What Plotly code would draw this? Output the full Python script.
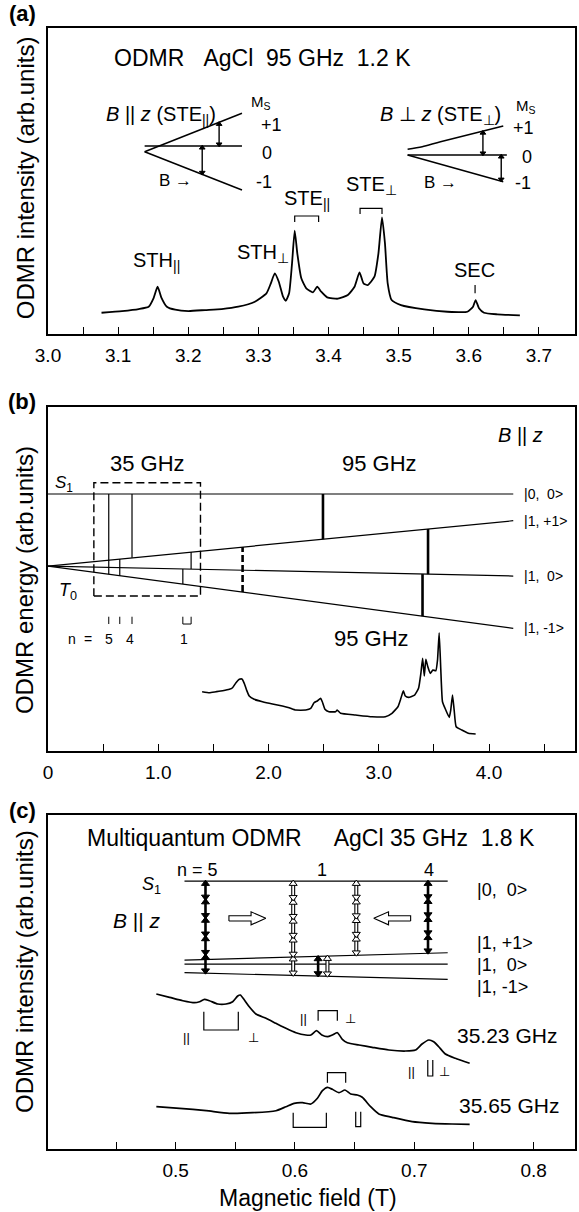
import numpy as np
import plotly.graph_objects as go

FONT = "Liberation Sans, Arial, Helvetica, sans-serif"
INK = "black"

# ---------------- (a) 95 GHz ODMR spectrum of AgCl ----------------
a_field = [3.0763, 3.1055, 3.1293, 3.1435, 3.1506, 3.1563, 3.1615, 3.1695, 3.1814, 3.2003,
           3.224, 3.2476, 3.2713, 3.295, 3.3115, 3.3178, 3.3234, 3.3291, 3.3352, 3.3391,
           3.3438, 3.348, 3.3518, 3.3555, 3.3612, 3.3683, 3.3778, 3.3839, 3.3896, 3.3981,
           3.4134, 3.4276, 3.4371, 3.4442, 3.4499, 3.456, 3.4655, 3.4712, 3.4763, 3.4805,
           3.4844, 3.49, 3.5033, 3.5365, 3.5696, 3.598, 3.6061, 3.6098, 3.6146, 3.6217,
           3.6406, 3.6729]
a_signal = [21.3, 23, 25, 27.3, 36, 47.3, 36.7, 27.3, 24.3, 23,
            24, 25, 27.3, 32.3, 40.7, 50.7, 60.7, 52.3, 37.3, 33.3,
            40.7, 70.7, 103.3, 80.7, 55.7, 45.7, 41.7, 47.3, 42.3, 36.7,
            35.3, 39, 47.3, 61.7, 50.7, 49, 57.3, 80.7, 116.7, 90.7,
            50.7, 34, 29, 24.7, 22.3, 22.3, 27.3, 34, 25.7, 21.3,
            19.7, 18.7]
a_tick_vals = [3.0, 3.1, 3.2, 3.3, 3.4, 3.5, 3.6, 3.7]
a_minor_vals = [3.05, 3.15, 3.25, 3.35, 3.45, 3.55, 3.65]

# spin-sublevel fans (B || z and B perp z)
par_field = [3.1378, 3.2766]
par_plus = [182.3, 220.7]
par_zero = [188, 188]
par_minus = [182.3, 144]
par_arrow_field = [3.244, 3.2199]

perp_plus_field = [3.5128, 3.5337, 3.5597, 3.6492]
perp_plus = [184.7, 187.3, 192.3, 208]
perp_zero_field = [3.5128, 3.6543]
perp_zero = [179, 179]
perp_minus_field = [3.5128, 3.6492]
perp_minus = [179, 152.3]
perp_arrow_field = [3.6202, 3.6463]

# peak assignments
ste_par_pair = [3.3518, 3.3859]
ste_perp_pair = [3.445, 3.4763]
sec_field = 3.609

# ---------------- (b) energy levels and wide-range spectrum ----------------
b_level_field = [0.0, 4.22]
b_levels = {
    "S1": [257, 257],
    "+1": [185, 230.3],
    "0": [185, 175],
    "-1": [185, 122.7],
}
b_level_names = ["|0,  0>", "|1, +1>", "|1,  0>", "|1, -1>"]
b_trans_field = [0.551, 0.651, 0.762, 1.223, 1.298, 1.765, 2.494, 3.397, 3.447]
b_trans_upper = ["S1", "+1", "S1", "0", "+1", "+1", "S1", "0", "+1"]
b_trans_lower = ["-1", "-1", "+1", "-1", "0", "-1", "+1", "-1", "0"]
b_trans_kind = ["thin", "thin", "thin", "thin", "thin", "dashed", "thick", "thick", "thick"]
b_box_field = [0.416, 1.383]
b_box_energy = [155, 268.3]
b_order_field = [0.551, 0.651, 0.762]
b_order_pair = [1.223, 1.298]

b_field = [1.398, 1.464, 1.524, 1.584, 1.645, 1.674, 1.705, 1.735, 1.759, 1.780,
           1.801, 1.825, 1.870, 1.945, 2.036, 2.126, 2.187, 2.247, 2.338, 2.383,
           2.413, 2.442, 2.473, 2.488, 2.512, 2.548, 2.609, 2.623, 2.654, 2.789,
           2.939, 3.060, 3.120, 3.174, 3.201, 3.223, 3.241, 3.271, 3.325, 3.361,
           3.382, 3.398, 3.413, 3.427, 3.445, 3.467, 3.491, 3.518, 3.533, 3.548,
           3.563, 3.578, 3.608, 3.639, 3.653, 3.669, 3.684, 3.702, 3.753, 3.813,
           3.879]
b_signal = [59.3, 58.3, 59.3, 60.3, 61.7, 63.3, 68.3, 71.7, 72, 67.7,
            61, 55, 51.7, 49.3, 47, 45, 43.3, 41, 41, 42.7,
            48.3, 50, 52.7, 49.3, 41.7, 39.3, 39.3, 41, 37.7, 36,
            34.3, 34.3, 37.7, 44.3, 52.7, 60.3, 55, 53.7, 56, 62.7,
            77.7, 92.7, 75, 91.7, 84.3, 77.7, 81, 80.3, 91, 118.3,
            81, 49.3, 41, 33.7, 41, 56, 41, 24.3, 21, 17.7,
            17]
b_tick_vals = [0, 1, 2, 3, 4]
b_tick_text = ["0", "1.0", "2.0", "3.0", "4.0"]
b_minor_vals = [0.5, 1.5, 2.5, 3.5, 4.5]

# ---------------- (c) multiquantum ODMR at 35 GHz ----------------
c_level_field = [0.5074, 0.7280]
c_levels = {
    "S1": [268, 268],
    "+1": [189, 196.3],
    "0": [185, 185],
    "-1": [176.3, 169.7],
}
c_mq_field = [0.525, 0.5985, 0.6514, 0.7115, 0.6194, 0.6272]
c_mq_order = [5, 5, 4, 4, 1, 1]
c_mq_upper = ["S1", "S1", "S1", "S1", "+1", "+1"]
c_mq_lower = ["-1", "-1", "+1", "+1", "-1", "-1"]
c_mq_filled = [True, False, False, True, True, False]

c_field_lo = [0.4838, 0.4949, 0.5060, 0.5158, 0.5200, 0.5241, 0.5283, 0.5353, 0.5423, 0.5478,
              0.5520, 0.5542, 0.5576, 0.5617, 0.5673, 0.5757, 0.5840, 0.5924, 0.6008, 0.6091,
              0.6133, 0.6180, 0.6225, 0.6272, 0.6313, 0.6355, 0.6397, 0.6439, 0.6536, 0.6647,
              0.6787, 0.6926, 0.7010, 0.7065, 0.7121, 0.7163, 0.7205, 0.7261, 0.7344, 0.7464]
c_signal_lo = [155, 151.7, 148.3, 146.3, 147.3, 149.7, 148.3, 145, 145, 147.3,
               153, 154, 149, 142.3, 135, 130.7, 125.7, 120.7, 116.3, 114,
               114, 118.3, 114, 112.3, 114, 116.3, 109.7, 106.3, 104, 101.7,
               99, 98, 99, 105, 109, 107.3, 102.3, 95, 90.7, 85.7]
c_field_hi = [0.4838, 0.5033, 0.5256, 0.5450, 0.5645, 0.5840, 0.5924, 0.5993, 0.6063, 0.6133,
              0.6188, 0.6230, 0.6272, 0.6313, 0.6369, 0.6419, 0.6467, 0.6522, 0.6564, 0.6634,
              0.6703, 0.6815, 0.6982, 0.7149, 0.7316, 0.7464]
c_signal_hi = [42.3, 40.7, 38.3, 35.7, 36.3, 38.3, 42.3, 45.7, 46.3, 45,
               50.7, 58.3, 61.7, 59.7, 56.3, 59, 55, 54, 51.7, 42.3,
               35, 31.7, 27.3, 25.7, 25, 24.7]
c_tick_vals = [0.5, 0.6, 0.7, 0.8]
c_tick_text = ["0.5", "0.6", "0.7", "0.8"]
c_minor_vals = [0.45, 0.55, 0.65, 0.75]

# resonance assignments under the 35 GHz traces
c_par_field = [0.5089, 0.6069, 0.6979]
c_par_y = [111.3, 131, 77.7]
c_perp_field = [0.5651, 0.6469, 0.7255]
c_perp_y = [111.3, 130.5, 77.7]
c_cup_field = [[0.5236, 0.5525], [0.7113, 0.7155], [0.5985, 0.6263], [0.6509, 0.6551]]
c_cup_y = [[137.3, 119], [89, 73], [36.3, 21.7], [37.3, 22.3]]
c_cap_field = [[0.6194, 0.6355], [0.6272, 0.6425]]
c_cap_y = [[138.3, 128.3], [76.3, 66.3]]
c_sweep_dir = [(0.5601, 230.7, 1), (0.6815, 230.7, -1)]

# outline of a hollow block arrow, unit length, pointing right
BLOCK_ARROW_U = [0, 0.6, 0.6, 1, 0.6, 0.6, 0, 0]
BLOCK_ARROW_V = [-0.2, -0.2, -0.5, 0, 0.5, 0.2, 0.2, -0.2]

fig = go.Figure()
annotations = []


def add_line(xs, ys, ax, width=1.2, dash="solid", color=INK, shape="linear", smoothing=0.0):
    fig.add_trace(go.Scatter(
        x=list(xs), y=list(ys), xaxis="x" + ax, yaxis="y" + ax, mode="lines",
        line=dict(color=color, width=width, dash=dash, shape=shape,
                  smoothing=smoothing if shape == "spline" else None),
        hoverinfo="skip", showlegend=False))


def stacked_arrow(x, y_lo, y_hi, n, ax, filled=True, shaft=2.4, head=7, inset=2.6):
    edges = np.linspace(y_lo, y_hi, n + 1)
    if filled:
        add_line([x, x], [y_lo, y_hi], ax, width=shaft)
    else:
        add_line([x, x], [y_lo, y_hi], ax, width=shaft + 2.2)
        add_line([x, x], [y_lo, y_hi], ax, width=shaft, color="white")
    face = INK if filled else "white"
    for sym, ys in (("triangle-up", edges[1:] - inset), ("triangle-down", edges[:-1] + inset)):
        fig.add_trace(go.Scatter(
            x=[x] * n, y=list(ys), xaxis="x" + ax, yaxis="y" + ax, mode="markers",
            marker=dict(symbol=sym, size=head, color=face, line=dict(color=INK, width=1)),
            hoverinfo="skip", showlegend=False))


def note(text, x, y, ax, size=18, xanchor="center", yanchor="middle", family=FONT,
         xref=None, yref=None, angle=0):
    annotations.append(dict(
        text=text, x=x, y=y, xref=xref or ("x" + ax), yref=yref or ("y" + ax),
        showarrow=False, xanchor=xanchor, yanchor=yanchor, textangle=angle,
        font=dict(size=size, family=family, color=INK)))


# ======== panel (a) ========
add_line(a_field, a_signal, "", width=1.8, shape="spline", smoothing=0.5)

add_line(par_field, par_plus, "", width=1.5)
add_line(par_field, par_zero, "", width=1.5)
add_line(par_field, par_minus, "", width=1.5)
stacked_arrow(par_arrow_field[0], np.interp(par_arrow_field[0], par_field, par_zero),
              np.interp(par_arrow_field[0], par_field, par_plus), 1, "",
              shaft=1.4, head=5, inset=1.8)
stacked_arrow(par_arrow_field[1], np.interp(par_arrow_field[1], par_field, par_minus),
              np.interp(par_arrow_field[1], par_field, par_zero), 1, "",
              shaft=1.4, head=5, inset=1.8)

add_line(perp_plus_field, perp_plus, "", width=1.5, shape="spline", smoothing=0.8)
add_line(perp_zero_field, perp_zero, "", width=1.5)
add_line(perp_minus_field, perp_minus, "", width=1.5)
stacked_arrow(perp_arrow_field[0], perp_zero[0],
              np.interp(perp_arrow_field[0], perp_plus_field, perp_plus), 1, "",
              shaft=1.4, head=5, inset=1.8)
stacked_arrow(perp_arrow_field[1], np.interp(perp_arrow_field[1], perp_minus_field, perp_minus),
              perp_zero[0], 1, "", shaft=1.4, head=5, inset=1.8)

for pair, top, leg in ((ste_par_pair, 118, 112), (ste_perp_pair, 125.7, 120)):
    add_line([pair[0], pair[0], pair[1], pair[1]], [leg, top, top, leg], "", width=1.2)
add_line([sec_field, sec_field], [40.7, 49], "", width=1.2)

note("ODMR\u00a0\u00a0\u00a0AgCl\u00a0\u00a095\u00a0GHz\u00a0\u00a01.2\u00a0K", 3.0915, 276, "",
     size=23, xanchor="left")
note("<i>B</i> || <i>z</i> (STE<sub>||</sub>)", 3.0795, 219, "", size=20, xanchor="left")
note("M<sub>S</sub>", 3.304, 232, "", size=15)
note("+1", 3.319, 209, "", size=18)
note("0", 3.3125, 181, "", size=18)
note("-1", 3.308, 152.3, "", size=18)
note("B \u2192", 3.1556, 154, "", size=17, xanchor="left")
note("<i>B</i> \u22a5 <i>z</i> (STE<sub>\u22a5</sub>)", 3.4707, 219, "", size=20, xanchor="left")
note("M<sub>S</sub>", 3.682, 228, "", size=15)
note("+1", 3.6776, 205.7, "", size=18)
note("0", 3.6825, 177.3, "", size=18)
note("-1", 3.6776, 150.7, "", size=18)
note("B \u2192", 3.5337, 151.5, "", size=17, xanchor="left")

note("STH<sub>||</sub>", 3.155, 72.3, "", size=20)
note("STH<sub>\u22a5</sub>", 3.306, 80.7, "", size=20)
note("STE<sub>||</sub>", 3.37, 135, "", size=20)
note("STE<sub>\u22a5</sub>", 3.462, 149, "", size=20)
note("SEC", 3.6075, 64, "", size=20)

# ======== panel (b) ========
for key in ("S1", "+1", "0", "-1"):
    add_line(b_level_field, b_levels[key], "2", width=1.2)
for name, key in zip(b_level_names, ("S1", "+1", "0", "-1")):
    note(name, 4.30, b_levels[key][1], "2", size=14, xanchor="left")

styles = {"thin": dict(width=1.2, dash="solid"),
          "thick": dict(width=2.6, dash="solid"),
          "dashed": dict(width=2.6, dash="7px,3px")}
for f, up, lo, kind in zip(b_trans_field, b_trans_upper, b_trans_lower, b_trans_kind):
    y_up = np.interp(f, b_level_field, b_levels[up])
    y_lo = np.interp(f, b_level_field, b_levels[lo])
    add_line([f, f], [y_lo, y_up], "2", **styles[kind])

bx0, bx1 = b_box_field
by0, by1 = b_box_energy
add_line([bx0, bx1, bx1, bx0, bx0], [by0, by0, by1, by1, by0], "2", width=1.4, dash="8px,4px")

for f in b_order_field:
    add_line([f, f], [127, 134.3], "2", width=1.0)
add_line([b_order_pair[0], b_order_pair[0], b_order_pair[1], b_order_pair[1]],
         [134.3, 127, 127, 134.3], "2", width=1.0)
note("n", 0.217, 111.7, "2", size=14)
note("=", 0.367, 111.7, "2", size=14)
note("5", b_order_field[0], 111.7, "2", size=14)
note("4", b_order_field[2] - 0.02, 111.7, "2", size=14)
note("1", 1.234, 111.7, "2", size=14)

add_line(b_field, b_signal, "2", width=1.6, shape="spline", smoothing=0.4)

note("35 GHz", 0.904, 287.7, "2", size=22)
note("95 GHz", 3.004, 287.7, "2", size=22)
note("95 GHz", 2.937, 112.7, "2", size=22)
note("<i>B</i> || <i>z</i>", 4.288, 316, "2", size=20)
note("<i>S</i><sub>1</sub>", 0.045, 267, "2", size=17, xanchor="left")
note("<i>T</i><sub>0</sub>", 0.081, 159.3, "2", size=18, xanchor="left")

# ======== panel (c) ========
for key in ("S1", "+1", "0", "-1"):
    add_line(c_level_field, c_levels[key], "3", width=1.2)
c_label_y = [259, 206, 184, 162.3]
for name, yv in zip(b_level_names, c_label_y):
    note(name, 0.7505, yv, "3", size=18, xanchor="left")

for f, n, up, lo, filled in zip(c_mq_field, c_mq_order, c_mq_upper, c_mq_lower, c_mq_filled):
    y_up = np.interp(f, c_level_field, c_levels[up])
    y_lo = np.interp(f, c_level_field, c_levels[lo])
    stacked_arrow(f, y_lo, y_hi=y_up, n=n, ax="3", filled=filled,
                  shaft=2.6 if filled else 1.8, head=7, inset=2.6)

x_per_px = (0.8347 - 0.393) / 529.0
for cx, cy, direction in c_sweep_dir:
    xs = [cx + (u - 0.5) * 37 * x_per_px * direction for u in BLOCK_ARROW_U]
    ys = [cy + v * 13 for v in BLOCK_ARROW_V]
    fig.add_trace(go.Scatter(x=xs, y=ys, xaxis="x3", yaxis="y3", mode="lines", fill="toself",
                             fillcolor="white", line=dict(color=INK, width=1.1),
                             hoverinfo="skip", showlegend=False))

add_line(c_field_lo, c_signal_lo, "3", width=1.7, shape="spline", smoothing=0.6)
add_line(c_field_hi, c_signal_hi, "3", width=1.7, shape="spline", smoothing=0.6)

for (x0, x1), (yo, yc) in zip(c_cup_field, c_cup_y):
    add_line([x0, x0, x1, x1], [yo, yc, yc, yo], "3", width=1.2)
for (x0, x1), (yc, yo) in zip(c_cap_field, c_cap_y):
    add_line([x0, x0, x1, x1], [yo, yc, yc, yo], "3", width=1.2)
for f, yv in zip(c_par_field, c_par_y):
    note("||", f, yv, "3", size=13)
for f, yv in zip(c_perp_field, c_perp_y):
    note("\u22a5", f, yv, "3", size=13, family="DejaVu Sans")

note("Multiquantum ODMR\u00a0\u00a0\u00a0\u00a0\u00a0AgCl 35 GHz\u00a0\u00a01.8 K", 0.4239, 310.7, "3",
     size=23, xanchor="left")
note("n = 5", 0.518, 279, "3", size=18)
note("1", 0.6227, 279, "3", size=18)
note("4", 0.7121, 279, "3", size=18)
note("<i>S</i><sub>1</sub>", 0.4895, 264, "3", size=18, xanchor="right")
note("<i>B</i> || <i>z</i>", 0.489, 229, "3", size=21, xanchor="right")
note("35.23 GHz", 0.7773, 114, "3", size=21)
note("35.65 GHz", 0.779, 44, "3", size=21)

# ======== axis titles and panel letters ========
note("ODMR intensity (arb.units)", -0.0435, 0.866, "", size=24, xref="paper", yref="paper", angle=-90)
note("ODMR energy (arb.units)", -0.0435, 0.5076, "", size=24, xref="paper", yref="paper", angle=-90)
note("ODMR intensity (arb.units)", -0.0435, 0.158, "", size=24, xref="paper", yref="paper", angle=-90)
note("Magnetic field (T)", 0.4934, -0.0437, "", size=23, xref="paper", yref="paper")
note("<b>(a)</b>", -0.049, 1.0125, "", size=22, xref="paper", yref="paper")
note("<b>(b)</b>", -0.049, 0.6664, "", size=22, xref="paper", yref="paper")
note("<b>(c)</b>", -0.049, 0.3024, "", size=22, xref="paper", yref="paper")

frame = dict(showline=True, mirror=True, linecolor=INK, linewidth=1.5, showgrid=False,
             zeroline=False)
tick_style = dict(ticks="inside", ticklen=7, tickwidth=1.3, tickcolor=INK,
                  tickfont=dict(size=19, family=FONT, color=INK), ticklabelstandoff=3)


def minor(vals):
    return dict(tickmode="array", tickvals=vals, ticks="inside", ticklen=7, tickwidth=1.3,
                tickcolor=INK, showgrid=False)


yframe = dict(frame, ticks="", showticklabels=False)

fig.update_layout(
    width=579, height=1212,
    margin=dict(l=48, r=2, t=28, b=63),
    paper_bgcolor="white", plot_bgcolor="white",
    font=dict(family=FONT, color=INK),
    showlegend=False,
    xaxis=dict(frame, **tick_style, domain=[0, 1], anchor="y", range=[3.0, 3.7515],
               tickmode="array", tickvals=a_tick_vals,
               ticktext=[f"{v:.1f}" for v in a_tick_vals], minor=minor(a_minor_vals)),
    yaxis=dict(yframe, domain=[0.7270, 1.0], anchor="x", range=[0, 306]),
    xaxis2=dict(frame, **tick_style, domain=[0, 1], anchor="y2", range=[0, 4.78],
                tickmode="array", tickvals=b_tick_vals, ticktext=b_tick_text,
                minor=minor(b_minor_vals)),
    yaxis2=dict(yframe, domain=[0.3550, 0.6619], anchor="x2", range=[0, 344]),
    xaxis3=dict(frame, **tick_style, domain=[0, 1], anchor="y3", range=[0.393, 0.8347],
                tickmode="array", tickvals=c_tick_vals, ticktext=c_tick_text,
                minor=minor(c_minor_vals)),
    yaxis3=dict(yframe, domain=[0.0, 0.2979], anchor="x3", range=[0, 334]),
    annotations=annotations,
)

fig.write_html("out.html")
